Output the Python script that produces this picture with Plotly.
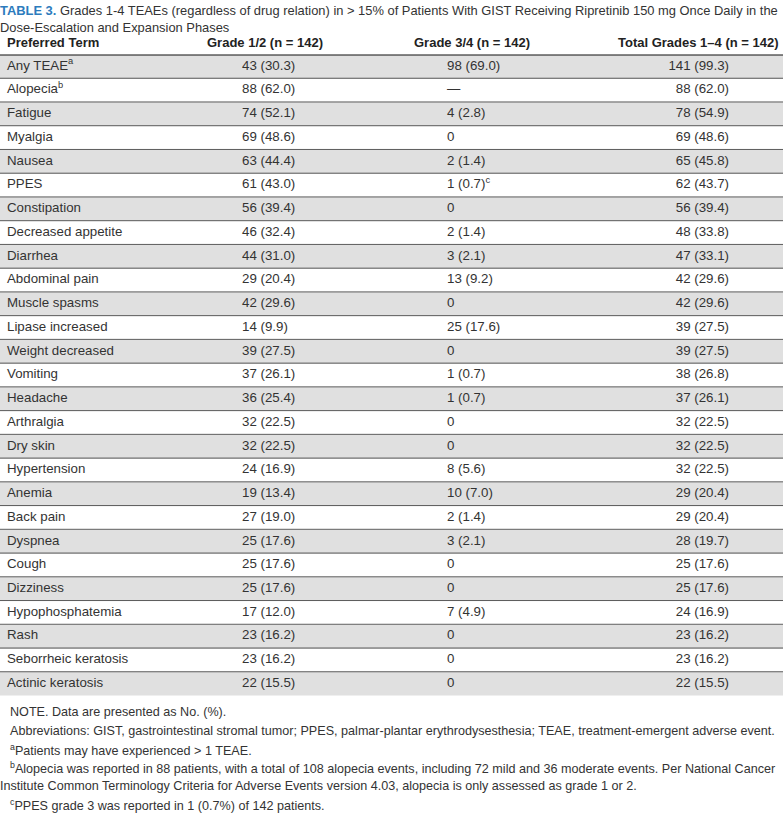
import plotly.graph_objects as go

W, H = 783, 814

# ---------------- data ----------------
terms = ["Any TEAE<sup>a</sup>", "Alopecia<sup>b</sup>", "Fatigue", "Myalgia", "Nausea", "PPES",
         "Constipation", "Decreased appetite", "Diarrhea", "Abdominal pain", "Muscle spasms",
         "Lipase increased", "Weight decreased", "Vomiting", "Headache", "Arthralgia", "Dry skin",
         "Hypertension", "Anemia", "Back pain", "Dyspnea", "Cough", "Dizziness",
         "Hypophosphatemia", "Rash", "Seborrheic keratosis", "Actinic keratosis"]
g12_n = [43, 88, 74, 69, 63, 61, 56, 46, 44, 29, 42, 14, 39, 37, 36, 32, 32, 24, 19, 27, 25, 25, 25, 17, 23, 23, 22]
g12_pct = [30.3, 62.0, 52.1, 48.6, 44.4, 43.0, 39.4, 32.4, 31.0, 20.4, 29.6, 9.9, 27.5, 26.1, 25.4, 22.5, 22.5,
           16.9, 13.4, 19.0, 17.6, 17.6, 17.6, 12.0, 16.2, 16.2, 15.5]
g34_n = [98, None, 4, 0, 2, 1, 0, 2, 3, 13, 0, 25, 0, 1, 1, 0, 0, 8, 10, 2, 3, 0, 0, 7, 0, 0, 0]
g34_pct = [69.0, None, 2.8, 0, 1.4, 0.7, 0, 1.4, 2.1, 9.2, 0, 17.6, 0, 0.7, 0.7, 0, 0, 5.6, 7.0, 1.4, 2.1,
           0, 0, 4.9, 0, 0, 0]
g34_note = {5: "c"}
tot_n = [141, 88, 78, 69, 65, 62, 56, 48, 47, 42, 42, 39, 39, 38, 37, 32, 32, 32, 29, 29, 28, 25, 25, 24, 23, 23, 22]
tot_pct = [99.3, 62.0, 54.9, 48.6, 45.8, 43.7, 39.4, 33.8, 33.1, 29.6, 29.6, 27.5, 27.5, 26.8, 26.1, 22.5, 22.5,
           22.5, 20.4, 20.4, 19.7, 17.6, 17.6, 16.9, 16.2, 16.2, 15.5]
headers = ["Preferred Term", "Grade 1/2 (n = 142)", "Grade 3/4 (n = 142)", "Total Grades 1–4 (n = 142)"]
title_label = "TABLE 3."
title_text = ("Grades 1-4 TEAEs (regardless of drug relation) in &gt; 15% of Patients With GIST Receiving "
              "Ripretinib 150 mg Once Daily in the<br>Dose-Escalation and Expansion Phases")
footnotes = [
    "NOTE. Data are presented as No. (%).",
    "Abbreviations: GIST, gastrointestinal stromal tumor; PPES, palmar-plantar erythrodysesthesia; TEAE, treatment-emergent adverse event.",
    "<sup>a</sup>Patients may have experienced &gt; 1 TEAE.",
    "<sup>b</sup>Alopecia was reported in 88 patients, with a total of 108 alopecia events, including 72 mild and 36 moderate events. Per National Cancer",
    "Institute Common Terminology Criteria for Adverse Events version 4.03, alopecia is only assessed as grade 1 or 2.",
    "<sup>c</sup>PPES grade 3 was reported in 1 (0.7%) of 142 patients.",
]


def fmt(n, p):
    if n is None:
        return "—"
    if n == 0:
        return "0"
    return f"{n} ({p:.1f})"


col12 = [fmt(n, p) for n, p in zip(g12_n, g12_pct)]
col34 = [fmt(n, p) + (f"<sup>{g34_note[i]}</sup>" if i in g34_note else "")
         for i, (n, p) in enumerate(zip(g34_n, g34_pct))]
coltot = [fmt(n, p) for n, p in zip(tot_n, tot_pct)]

# ---------------- layout constants ----------------
FONT = "Liberation Sans, Arial"
TXT = "#333333"
FILL = "#e0e0e0"
TABLE_TOP, TABLE_BOT = 54.5, 695.5
COL_X = [7, 242, 447, 729]
COL_POS = ["middle right", "middle right", "middle right", "middle left"]
HEAD_X = [7, 265, 472, 698]
HEAD_Y = 42
ANN_PAD = 2

rows = list(range(len(terms)))
fig = go.Figure()

fig.add_trace(go.Bar(
    y=rows, x=[W] * len(rows), base=0, orientation="h", width=1,
    marker=dict(color=[FILL if i % 2 == 0 else "white" for i in rows], line=dict(width=0)),
    hoverinfo="skip", showlegend=False))

for cx, pos, vals in zip(COL_X, COL_POS, [terms, col12, col34, coltot]):
    fig.add_trace(go.Scatter(
        x=[cx] * len(rows), y=rows, text=vals, mode="text", textposition=pos,
        textfont=dict(family=FONT, size=13.3, color=TXT), hoverinfo="skip", showlegend=False))

shapes = []
for i in rows[:-1]:
    shapes.append(dict(type="line", xref="x", yref="y", x0=0, x1=W, y0=i + 0.5, y1=i + 0.5,
                       line=dict(color="#5a5a5a", width=1)))
shapes.append(dict(type="line", xref="x", yref="y", x0=0, x1=W, y0=-0.5, y1=-0.5,
                   line=dict(color="#111111", width=2)))

ann = []
ann.append(dict(x=(0 - ANN_PAD) / W, y=1 - 1 / H, xref="paper", yref="paper", xanchor="left", yanchor="top",
                align="left", showarrow=False,
                text=f"<b><span style='color:#2c7bbd'>{title_label}</span></b> {title_text}",
                font=dict(family=FONT, size=12.9, color="#333333")))
for i, (hx, h) in enumerate(zip(HEAD_X, headers)):
    ann.append(dict(x=(hx - (ANN_PAD if i == 0 else 0)) / W, y=1 - HEAD_Y / H, xref="paper", yref="paper",
                    xanchor="left" if i == 0 else "center", yanchor="middle", showarrow=False,
                    text=f"<b>{h}</b>", font=dict(family=FONT, size=13, color="#222222")))
fn_y = [712, 731, 750, 768, 786, 805]
fn_x = [10, 10, 10, 10, 0, 10]
for t, fy, fx in zip(footnotes, fn_y, fn_x):
    ann.append(dict(x=(fx - ANN_PAD) / W, y=1 - fy / H, xref="paper", yref="paper", xanchor="left",
                    yanchor="middle", showarrow=False, text=t, font=dict(family=FONT, size=12.6, color=TXT)))

fig.update_layout(
    width=W, height=H, autosize=False, margin=dict(l=0, r=0, t=0, b=0),
    paper_bgcolor="white", plot_bgcolor="white",
    xaxis=dict(range=[0, W], visible=False, fixedrange=True),
    yaxis=dict(range=[len(rows) - 0.5, -0.5], domain=[1 - TABLE_BOT / H, 1 - TABLE_TOP / H],
               visible=False, fixedrange=True),
    shapes=shapes, annotations=ann, bargap=0,
)

fig.write_html("out.html", config={"displayModeBar": False},
               post_script="document.body.style.margin='0';document.body.style.overflow='hidden';")
